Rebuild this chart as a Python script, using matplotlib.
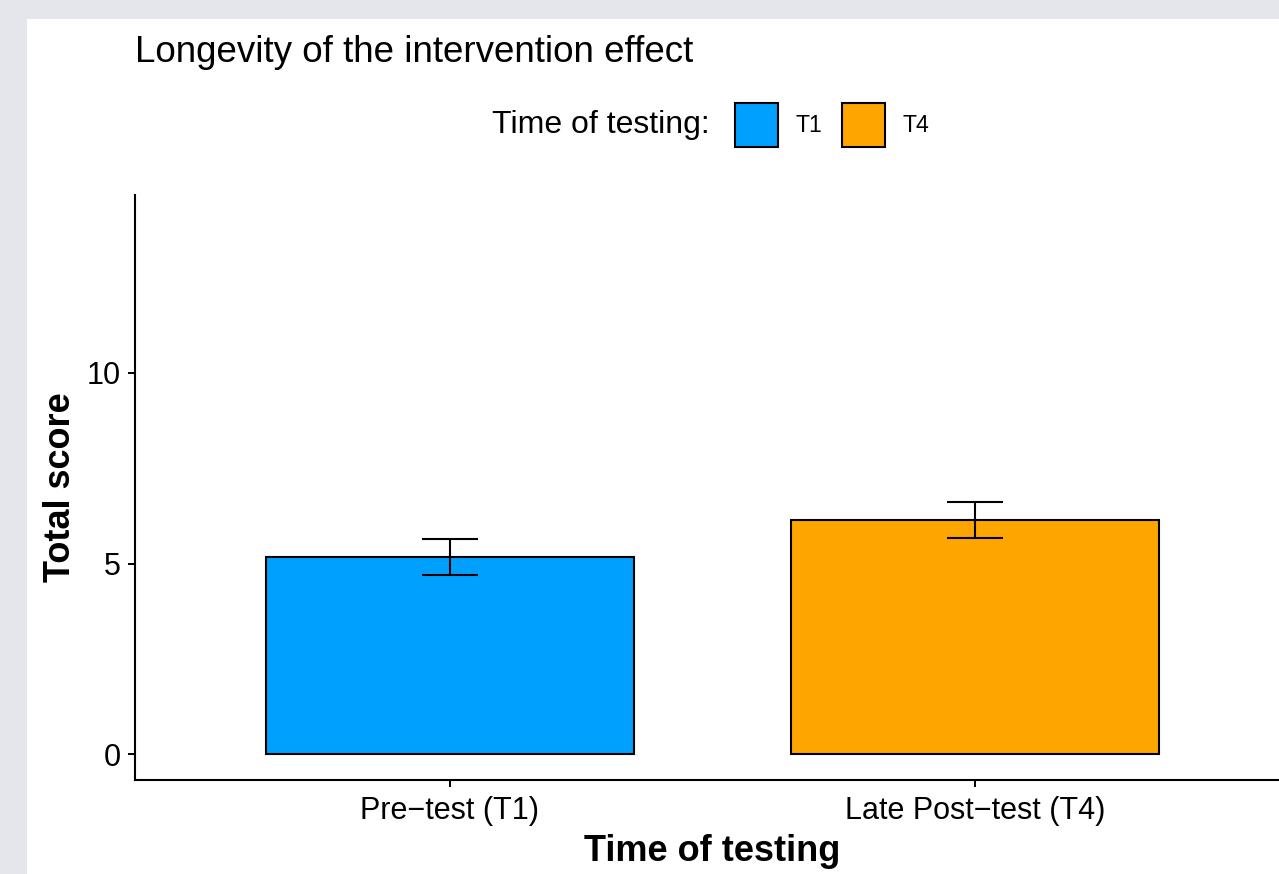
import matplotlib
matplotlib.use("Agg")
import matplotlib.pyplot as plt
from matplotlib.patches import Rectangle, Patch

categories = ["Pre\u2212test (T1)", "Late Post\u2212test (T4)"]
legend_labels = ["T1", "T4"]
means = [5.17, 6.14]
errors = [0.47, 0.47]
colors = ["#00A0FF", "#FFA500"]
yticks = [0, 5, 10]

W, H = 1279, 874
plt.rcParams['font.family'] = ['Liberation Sans', 'DejaVu Sans']
fig = plt.figure(figsize=(W / 100, H / 100), dpi=100)
fig.patch.set_facecolor('#E5E6EB')
bg = Rectangle((27 / W, 0), 1 - 27 / W, 1 - 19 / H, transform=fig.transFigure,
               facecolor='white', edgecolor='none', zorder=-10)
fig.add_artist(bg)

ax = fig.add_axes([135 / W, 1 - 780 / H, 1155 / W, 585 / H])
ax.set_zorder(1)
ax.set_facecolor('white')
x = list(range(len(categories)))
bars = ax.bar(x, means, width=0.7, color=colors, edgecolor='black', linewidth=1.5, zorder=2)
ax.errorbar(x, means, yerr=errors, fmt='none', ecolor='black', elinewidth=1.5,
            capsize=20, capthick=1.5, zorder=3)

ax.set_xlim(-0.6, 1.6)
ax.set_ylim(-0.68, 14.67)
ax.set_yticks(yticks)
ax.set_xticks(x)
ax.set_xticklabels(categories)
ax.tick_params(axis='both', labelsize=22, length=5, width=1.4, pad=5, color='black', labelcolor='black')
ax.tick_params(axis='x', pad=6.5)
for s in ['top', 'right']:
    ax.spines[s].set_visible(False)
for s in ['left', 'bottom']:
    ax.spines[s].set_linewidth(1.5)
ax.set_xlabel("Time of testing", fontsize=26, fontweight='bold', labelpad=5.5)
ax.set_ylabel("Total score", fontsize=26, fontweight='bold', labelpad=6.5)

fig.text(135 / W, 1 - 62 / H, "Longevity of the intervention effect", fontsize=26.5,
         ha='left', va='baseline')
fig.text(710 / W, 1 - 125 / H, "Time of testing:", fontsize=23, ha='right', va='center')
handles = [Patch(facecolor=c, edgecolor='black', linewidth=1.5) for c in colors]
fig.legend(handles, legend_labels, ncol=2, loc='center left',
           bbox_to_anchor=(735 / W, 1 - 125 / H), frameon=False, fontsize=16.6,
           handlelength=1.87, handleheight=2.5, handletextpad=0.74, columnspacing=0.87,
           borderpad=0, borderaxespad=0)

fig.savefig("out.png", dpi=100, facecolor=fig.get_facecolor())
